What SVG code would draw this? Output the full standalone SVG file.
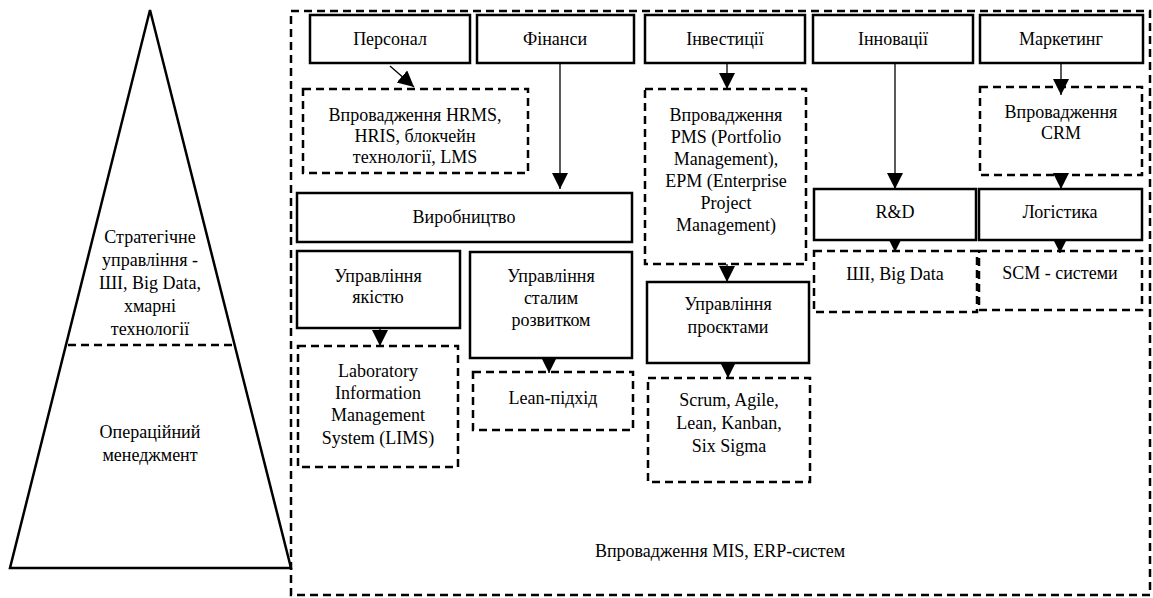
<svg xmlns="http://www.w3.org/2000/svg" width="1153" height="598" viewBox="0 0 1153 598" font-family="'Liberation Serif', 'Times New Roman', serif">
  <style>
    text { font-family: 'Liberation Serif', 'Times New Roman', 'DejaVu Serif', serif; font-size: 18px; fill: #000; text-anchor: middle; }
    .solid { fill: #fff; stroke: #000; stroke-width: 2.5; }
    .dash { fill: none; stroke: #000; stroke-width: 2.5; stroke-dasharray: 8 5; }
    .conn { stroke: #000; stroke-width: 1.3; fill: none; marker-end: url(#arrow); }
  </style>
  <defs>
    <marker id="arrow" markerUnits="userSpaceOnUse" markerWidth="17" markerHeight="17" refX="16" refY="8" orient="auto">
      <path d="M0,0 L16,8 L0,16 Z" fill="#000"/>
    </marker>
  </defs>
  <rect width="1153" height="598" fill="#fff"/>

  <!-- pyramid of management levels -->
  <g id="pyramid">
    <polygon points="150,10 291,568 10,568" fill="none" stroke="#000" stroke-width="2.5"/>
    <line x1="68" y1="345" x2="232" y2="345" stroke="#000" stroke-width="2.5" stroke-dasharray="8 5"/>
    <text x="150" y="243">Стратегічне</text>
    <text x="150" y="266">управління -</text>
    <text x="150" y="289">ШІ, Big Data,</text>
    <text x="150" y="312">хмарні</text>
    <text x="150" y="335">технології</text>
    <text x="150" y="438">Операційний</text>
    <text x="150" y="461">менеджмент</text>
  </g>

  <!-- enterprise-wide information system frame -->
  <g id="mis-erp">
    <rect class="dash" x="291" y="11" width="859" height="584"/>
    <text x="720" y="557">Впровадження MIS, ERP-систем</text>
  </g>

  <!-- connectors -->
  <g id="connectors">
    <line class="conn" x1="390" y1="66" x2="414" y2="87"/>
    <line class="conn" x1="560" y1="63" x2="560" y2="189"/>
    <line class="conn" x1="727" y1="63" x2="727" y2="89"/>
    <line class="conn" x1="895" y1="63" x2="895" y2="189"/>
    <line class="conn" x1="1061" y1="63" x2="1061" y2="95"/>
    <line class="conn" x1="1061" y1="175" x2="1061" y2="189"/>
    <line class="conn" x1="380" y1="328" x2="380" y2="346"/>
    <line class="conn" x1="549" y1="358" x2="549" y2="373"/>
    <line class="conn" x1="727" y1="264" x2="727" y2="282"/>
    <line class="conn" x1="728" y1="363" x2="728" y2="378"/>
    <line class="conn" x1="895" y1="240" x2="895" y2="252"/>
    <line class="conn" x1="1060" y1="238" x2="1060" y2="253"/>
  </g>

  <!-- functional areas -->
  <g id="personnel">
    <rect class="solid" x="310" y="15" width="160" height="48"/>
    <text x="390" y="45">Персонал</text>
  </g>
  <g id="finance">
    <rect class="solid" x="477" y="15" width="157" height="48"/>
    <text x="555" y="45">Фінанси</text>
  </g>
  <g id="investments">
    <rect class="solid" x="645" y="15" width="160" height="48"/>
    <text x="725" y="45">Інвестиції</text>
  </g>
  <g id="innovations">
    <rect class="solid" x="813" y="15" width="160" height="48"/>
    <text x="893" y="45">Інновації</text>
  </g>
  <g id="marketing">
    <rect class="solid" x="980" y="15" width="163" height="48"/>
    <text x="1061" y="45">Маркетинг</text>
  </g>

  <!-- tools per area -->
  <g id="hrms">
    <rect class="dash" x="303" y="89" width="225" height="84"/>
    <text x="415" y="121">Впровадження HRMS,</text>
    <text x="415" y="142">HRIS, блокчейн</text>
    <text x="415" y="163">технології, LMS</text>
  </g>
  <g id="pms">
    <rect class="dash" x="645" y="89" width="161" height="175"/>
    <text x="726" y="121">Впровадження</text>
    <text x="726" y="143">PMS (Portfolio</text>
    <text x="726" y="165">Management),</text>
    <text x="726" y="187">EPM (Enterprise</text>
    <text x="726" y="209">Project</text>
    <text x="726" y="231">Management)</text>
  </g>
  <g id="crm">
    <rect class="dash" x="980" y="87" width="162" height="88"/>
    <text x="1061" y="118">Впровадження</text>
    <text x="1061" y="139">CRM</text>
  </g>

  <g id="production">
    <rect class="solid" x="297" y="193" width="335" height="49"/>
    <text x="464" y="223">Виробництво</text>
  </g>
  <g id="rnd">
    <rect class="solid" x="814" y="189" width="162" height="51"/>
    <text x="895" y="218">R&amp;D</text>
  </g>
  <g id="logistics">
    <rect class="solid" x="979" y="189" width="163" height="51"/>
    <text x="1060" y="218">Логістика</text>
  </g>
  <g id="ai-bigdata">
    <rect class="dash" x="814" y="251" width="163" height="61"/>
    <text x="895" y="280">ШІ, Big Data</text>
  </g>
  <g id="scm">
    <rect class="dash" x="979" y="251" width="163" height="59"/>
    <text x="1060" y="279">SCM - системи</text>
  </g>

  <g id="quality">
    <rect class="solid" x="297" y="251" width="163" height="77"/>
    <text x="378" y="282">Управління</text>
    <text x="378" y="303">якістю</text>
  </g>
  <g id="lims">
    <rect class="dash" x="298" y="346" width="160" height="121"/>
    <text x="378" y="377">Laboratory</text>
    <text x="378" y="399">Information</text>
    <text x="378" y="421">Management</text>
    <text x="378" y="444">System (LIMS)</text>
  </g>
  <g id="sustainability">
    <rect class="solid" x="470" y="252" width="162" height="106"/>
    <text x="551" y="282">Управління</text>
    <text x="551" y="304">сталим</text>
    <text x="551" y="326">розвитком</text>
  </g>
  <g id="lean">
    <rect class="dash" x="473" y="372" width="160" height="58"/>
    <text x="553" y="404">Lean-підхід</text>
  </g>
  <g id="projects">
    <rect class="solid" x="647" y="282" width="162" height="81"/>
    <text x="728" y="310">Управління</text>
    <text x="728" y="333">проєктами</text>
  </g>
  <g id="methods">
    <rect class="dash" x="648" y="378" width="162" height="104"/>
    <text x="729" y="406">Scrum, Agile,</text>
    <text x="729" y="429">Lean, Kanban,</text>
    <text x="729" y="452">Six Sigma</text>
  </g>
</svg>
